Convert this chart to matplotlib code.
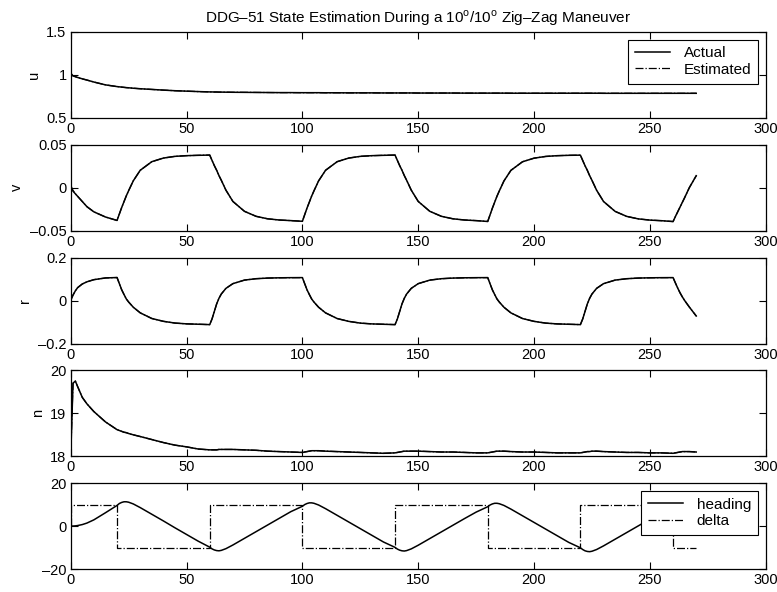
import matplotlib
matplotlib.use('Agg')
import matplotlib.pyplot as plt
from matplotlib.ticker import FuncFormatter

plt.rcParams['font.family'] = ['Liberation Sans', 'DejaVu Sans']
plt.rcParams['mathtext.fontset'] = 'custom'
plt.rcParams['mathtext.rm'] = 'Liberation Sans'

# time grid (s), denser right after each rudder switch
t = [0, 1, 2, 3, 5, 7, 10, 15,
     20, 21, 22, 23, 24, 25, 27, 30, 35, 40, 45, 50, 55,
     60, 61, 62, 63, 64, 65, 67, 70, 75, 80, 85, 90, 95,
     100, 101, 102, 103, 104, 105, 107, 110, 115, 120, 125, 130, 135,
     140, 141, 142, 143, 144, 145, 147, 150, 155, 160, 165, 170, 175,
     180, 181, 182, 183, 184, 185, 187, 190, 195, 200, 205, 210, 215,
     220, 221, 222, 223, 224, 225, 227, 230, 235, 240, 245, 250, 255,
     260, 261, 262, 263, 264, 265, 267, 270]

u = [1.000, 0.990, 0.980, 0.971, 0.955, 0.941, 0.918, 0.885,
     0.865, 0.862, 0.859, 0.856, 0.853, 0.851, 0.846, 0.840, 0.832, 0.824, 0.817, 0.812, 0.807,
     0.803, 0.803, 0.802, 0.802, 0.801, 0.801, 0.800, 0.799, 0.798, 0.797, 0.796, 0.795, 0.795,
     0.794, 0.794, 0.794, 0.794, 0.794, 0.794, 0.794, 0.793, 0.793, 0.792, 0.792, 0.792, 0.791,
     0.791, 0.791, 0.791, 0.791, 0.791, 0.791, 0.791, 0.790, 0.790, 0.790, 0.790, 0.789, 0.789,
     0.789, 0.789, 0.789, 0.789, 0.789, 0.789, 0.789, 0.788, 0.788, 0.788, 0.788, 0.788, 0.788,
     0.788, 0.788, 0.788, 0.788, 0.788, 0.788, 0.788, 0.787, 0.787, 0.787, 0.787, 0.787, 0.787,
     0.787, 0.787, 0.787, 0.787, 0.787, 0.787, 0.787, 0.787]

v = [0.000, -0.004, -0.007, -0.010, -0.016, -0.022, -0.028, -0.034,
     -0.0380, -0.0305, -0.0230, -0.0162, -0.0094, -0.0034, 0.0080, 0.0203, 0.0303, 0.0345, 0.0365, 0.0373, 0.0377,
     0.0380, 0.0318, 0.0257, 0.0203, 0.0141, 0.0087, -0.0028, -0.0159, -0.0274, -0.0332, -0.0361, -0.0375, -0.0382,
     -0.0390, -0.0313, -0.0236, -0.0167, -0.0097, -0.0036, 0.0080, 0.0203, 0.0303, 0.0345, 0.0365, 0.0373, 0.0377,
     0.0380, 0.0318, 0.0257, 0.0203, 0.0141, 0.0087, -0.0028, -0.0159, -0.0274, -0.0332, -0.0361, -0.0375, -0.0382,
     -0.0392, -0.0315, -0.0238, -0.0168, -0.0098, -0.0037, 0.0079, 0.0202, 0.0302, 0.0344, 0.0364, 0.0373, 0.0377,
     0.0379, 0.0317, 0.0256, 0.0202, 0.0140, 0.0086, -0.0029, -0.0160, -0.0275, -0.0333, -0.0362, -0.0376, -0.0383,
     -0.0393, -0.0335, -0.0280, -0.0225, -0.0170, -0.0115, 0.0000, 0.0140]

r = [0.000, 0.025, 0.045, 0.060, 0.077, 0.087, 0.097, 0.105,
     0.1070, 0.0785, 0.0501, 0.0282, 0.0074, -0.0069, -0.0310, -0.0572, -0.0835, -0.0967, -0.1048, -0.1085, -0.1102,
     -0.1120, -0.0857, -0.0507, -0.0156, 0.0106, 0.0303, 0.0566, 0.0785, 0.0950, 0.1015, 0.1044, 0.1057, 0.1063,
     0.1066, 0.0782, 0.0499, 0.0280, 0.0072, -0.0071, -0.0312, -0.0574, -0.0837, -0.0969, -0.1050, -0.1087, -0.1104,
     -0.1120, -0.0857, -0.0507, -0.0156, 0.0106, 0.0303, 0.0566, 0.0785, 0.0950, 0.1015, 0.1044, 0.1057, 0.1063,
     0.1066, 0.0782, 0.0499, 0.0280, 0.0072, -0.0071, -0.0312, -0.0574, -0.0837, -0.0969, -0.1050, -0.1087, -0.1104,
     -0.1120, -0.0857, -0.0507, -0.0156, 0.0106, 0.0303, 0.0566, 0.0785, 0.0950, 0.1015, 0.1044, 0.1057, 0.1063,
     0.1066, 0.0820, 0.0580, 0.0360, 0.0170, 0.0000, -0.0300, -0.0720]

n = [18.00, 19.70, 19.75, 19.62, 19.37, 19.22, 19.04, 18.80,
     18.62, 18.60, 18.58, 18.56, 18.55, 18.53, 18.50, 18.46, 18.39, 18.32, 18.26, 18.22, 18.17,
     18.15, 18.15, 18.15, 18.15, 18.16, 18.16, 18.16, 18.16, 18.15, 18.14, 18.12, 18.11, 18.10,
     18.09, 18.10, 18.11, 18.12, 18.13, 18.13, 18.13, 18.12, 18.11, 18.10, 18.09, 18.08, 18.07,
     18.08, 18.09, 18.10, 18.11, 18.12, 18.12, 18.12, 18.12, 18.11, 18.10, 18.10, 18.09, 18.08,
     18.08, 18.09, 18.10, 18.11, 18.12, 18.12, 18.12, 18.11, 18.10, 18.10, 18.09, 18.08, 18.08,
     18.08, 18.09, 18.10, 18.11, 18.11, 18.12, 18.12, 18.11, 18.10, 18.09, 18.09, 18.08, 18.08,
     18.07, 18.08, 18.09, 18.10, 18.11, 18.11, 18.11, 18.10]

# estimator output, starts a little off and then tracks the true states
u_est = [1.025, 0.992] + u[2:]
v_est = [0.003, -0.003] + v[2:]
r_est = [0.004, 0.026] + r[2:]
n_est = n[:]

heading = [0.0, 0.02, 0.1, 0.25, 0.7, 1.4, 2.9, 6.2,
           9.6, 10.5, 11.0, 11.3, 11.3, 11.1, 10.3, 8.6, 5.5, 2.4, -0.8, -3.9, -7.0,
           -9.8, -10.6, -11.1, -11.4, -11.5, -11.3, -10.5, -8.8, -5.7, -2.6, 0.5, 3.6, 6.7,
           9.2, 10.0, 10.5, 10.8, 10.8, 10.6, 9.8, 8.1, 5.0, 1.9, -1.2, -4.3, -7.4,
           -9.9, -10.7, -11.2, -11.5, -11.6, -11.4, -10.6, -8.9, -5.8, -2.7, 0.4, 3.5, 6.5,
           9.0, 9.8, 10.3, 10.6, 10.6, 10.4, 9.6, 7.9, 4.8, 1.7, -1.4, -4.5, -7.6,
           -10.1, -10.9, -11.5, -11.8, -11.9, -11.7, -10.9, -9.2, -6.1, -3.0, 0.1, 3.2, 6.2,
           8.8, 9.6, 10.1, 10.3, 10.3, 10.1, 9.3, 7.6]

# rudder command, switches every 40 s
delta_t = [0, 0, 20, 60, 100, 140, 180, 220, 260, 270]
delta = [0, 10, -10, 10, -10, 10, -10, 10, -10, -10]

ylims = [(0.5, 1.5), (-0.05, 0.05), (-0.2, 0.2), (18, 20), (-20, 20)]
yticks = [[0.5, 1, 1.5], [-0.05, 0, 0.05], [-0.2, 0, 0.2], [18, 19, 20], [-20, 0, 20]]
ylabels = ['u', 'v', 'r', 'n', '']
xticks = [0, 50, 100, 150, 200, 250, 300]

title = 'DDG\u201351 State Estimation During a 10$^{\\rm o}$/10$^{\\rm o}$ Zig\u2013Zag Maneuver'

fmt = FuncFormatter(lambda val, pos: ('%g' % val).replace('-', '\u2013'))

fig = plt.figure(figsize=(7.77, 5.92), dpi=100)
axes = []
for i in range(5):
    bottom = 0.8007 - i * 0.1905
    ax = fig.add_axes([0.091, bottom, 0.8945, 0.1453])
    axes.append(ax)

states = [(u, u_est), (v, v_est), (r, r_est), (n, n_est)]
for i, (act, est) in enumerate(states):
    ax = axes[i]
    ax.plot(t, act, '-', color='k', lw=1.1, label='Actual')
    ax.plot(t, est, '-.', color='k', lw=0.9, label='Estimated')

ax = axes[4]
ax.plot(t, heading, '-', color='k', lw=1.1, label='heading')
ax.plot(delta_t, delta, '-.', color='k', lw=0.9, drawstyle='steps-post', label='delta')

for i, ax in enumerate(axes):
    ax.set_xlim(0, 300)
    ax.set_ylim(*ylims[i])
    ax.set_xticks(xticks)
    ax.set_yticks(yticks[i])
    ax.yaxis.set_major_formatter(fmt)
    ax.tick_params(direction='in', top=True, right=True, length=5, width=0.8,
                   labelsize=10.5, pad=3)
    for s in ax.spines.values():
        s.set_linewidth(0.9)
    if ylabels[i]:
        ax.set_ylabel(ylabels[i], fontsize=10.5)

leg_kw = dict(loc='upper right', fontsize=11, fancybox=False, framealpha=1,
              edgecolor='k', borderpad=0.45, labelspacing=0.15, handlelength=2.3,
              handletextpad=0.9, borderaxespad=0.5)
lg = axes[0].legend(**leg_kw)
lg.get_frame().set_linewidth(0.8)
lg = axes[4].legend(**leg_kw)
lg.get_frame().set_linewidth(0.8)

axes[0].set_title(title, fontsize=11, pad=7)

fig.savefig('out.png', dpi=100)
